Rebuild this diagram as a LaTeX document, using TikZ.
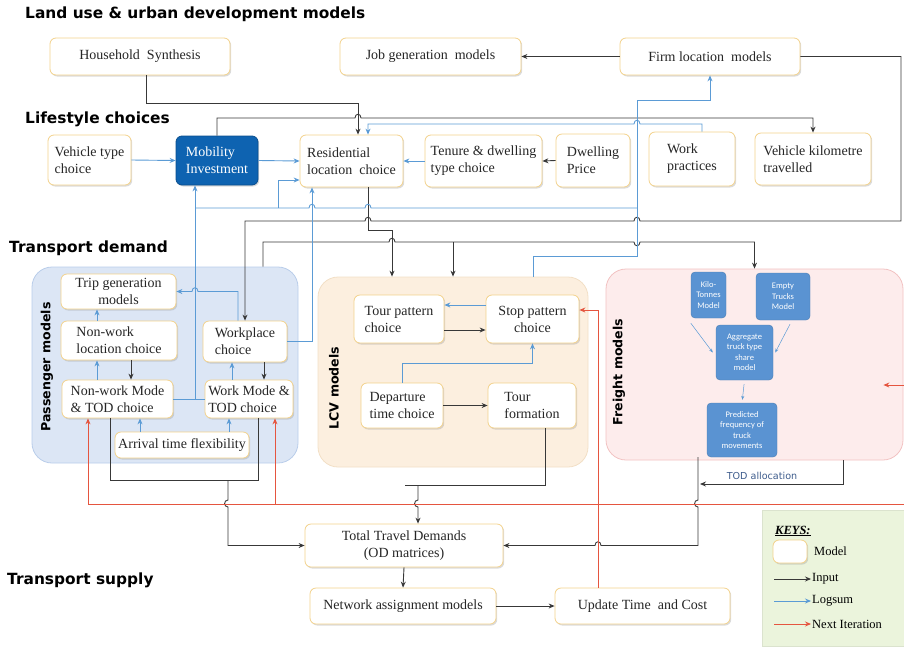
\documentclass[tikz,border=0pt]{standalone}
\usepackage{fontspec}
\setmainfont{Liberation Serif}
\newfontfamily\headfont{DejaVu Sans}
\newfontfamily\frfont{Carlito}
\usepackage{xcolor}
\usetikzlibrary{arrows.meta, positioning, shadows}

\definecolor{boxline}{HTML}{F3D28C}
\definecolor{logsum}{HTML}{5B9BD5}
\definecolor{nextit}{HTML}{E5553F}
\definecolor{inpline}{HTML}{383838}
\definecolor{mobblue}{HTML}{0E63B1}
\definecolor{frblue}{HTML}{5A93D2}
\definecolor{paxfill}{HTML}{DCE6F5}
\definecolor{paxline}{HTML}{B9CDEA}
\definecolor{lcvfill}{HTML}{FCEFDF}
\definecolor{lcvline}{HTML}{F2DFC6}
\definecolor{frtfill}{HTML}{FDECEC}
\definecolor{frtline}{HTML}{F2C2C2}
\definecolor{keyfill}{HTML}{EBF4DC}
\definecolor{todtext}{HTML}{3E5C8C}

\begin{document}
\begin{tikzpicture}[x=1pt, y=-1pt,
  model/.style={draw=boxline, line width=0.8pt, rounded corners=6pt, fill=white,
    drop shadow={shadow xshift=1.2pt, shadow yshift=-1.5pt, fill=black!40, opacity=0.35},
    font=\fontsize{14}{17}\selectfont, text=black!85, inner sep=2pt, align=left},
  group/.style={rounded corners=20pt, line width=0.8pt},
  grouplabel/.style={font=\headfont\bfseries\fontsize{12.6}{14}\selectfont, rotate=90},
  heading/.style={font=\headfont\bfseries\fontsize{15.4}{18}\selectfont, anchor=west, inner sep=0pt},
  frbox/.style={draw=frblue!85!black, fill=frblue, rounded corners=4pt, text=white,
    align=center, font=\frfont\fontsize{8.5}{10.5}\selectfont, inner sep=1pt},
  keytext/.style={anchor=west, inner sep=1pt, font=\fontsize{12.5}{14}\selectfont},
  inp/.style={draw=inpline, line width=0.9pt},
  lgs/.style={draw=logsum, line width=0.9pt},
  nxt/.style={draw=nextit, line width=0.9pt},
  >={Stealth[length=6pt, width=5pt]}
]
\useasboundingbox (0,0) rectangle (904,646);

% groups
\node[group, fill=paxfill, draw=paxline, minimum width=266pt, minimum height=196pt] (pax) at (165,365) {};
\node[group, fill=lcvfill, draw=lcvline, minimum width=270pt, minimum height=190pt] (lcv) at (453,372) {};
\node[group, fill=frtfill, draw=frtline, minimum width=297pt, minimum height=191pt] (frt) at (754.5,364.5) {};
\node[grouplabel] (paxlbl) at (47,367) {Passenger models};
\node[grouplabel] (lcvlbl) at (334,388) {LCV models};
\node[grouplabel] (frtlbl) at (619,372) {Freight models};

% headings
\node[heading] (hland) at (25,14) {Land use \& urban development models};
\node[heading] (hlife) at (25,119) {Lifestyle choices};
\node[heading] (hdem) at (9,248) {Transport demand};
\node[heading] (hsup) at (7,580) {Transport supply};

% land use
\node[model, minimum width=180pt, minimum height=37pt] (hh) at (140,56.5) {Household\ \ Synthesis};
\node[model, minimum width=181pt, minimum height=37pt] (job) at (430.5,56.5) {Job generation\ \ models};
\node[model, minimum width=180pt, minimum height=37pt] (firm) at (710,56.5) {Firm location\ \ models};

% lifestyle
\node[model, minimum width=83pt, minimum height=50pt] (veh) at (89.5,160) {Vehicle type\\choice};
\node[model, fill=mobblue, draw=mobblue!80!black, text=white, minimum width=82pt, minimum height=49pt] (mob) at (217,160.5) {Mobility\\Investment};
\node[model, minimum width=103pt, minimum height=52pt] (res) at (351.5,161) {Residential\\location\ \ choice};
\node[model, minimum width=117pt, minimum height=52pt] (ten) at (483.5,161) {Tenure \& dwelling\\type choice};
\node[model, minimum width=74pt, minimum height=53pt] (dwp) at (593,160.5) {Dwelling\\Price};
\node[model, minimum width=86pt, minimum height=54pt] (wrk) at (692,159) {Work\\practices};
\node[model, minimum width=116pt, minimum height=52pt] (vkt) at (813,159) {Vehicle kilometre\\travelled};

% passenger models
\node[model, align=center, minimum width=115pt, minimum height=35pt] (tg) at (118.5,291.5) {Trip generation\\models};
\node[model, minimum width=116pt, minimum height=39pt] (nwl) at (119,340.5) {Non-work\\location choice};
\node[model, minimum width=111pt, minimum height=38pt] (nwm) at (117.5,399) {Non-work Mode\\\& TOD choice};
\node[model, minimum width=84pt, minimum height=41pt] (wpc) at (245,341.5) {Workplace\\choice};
\node[model, minimum width=88pt, minimum height=38pt] (wkm) at (249,399) {Work Mode \&\\TOD choice};
\node[model, minimum width=134pt, minimum height=26pt] (arr) at (182,445) {Arrival time flexibility};

% LCV models
\node[model, minimum width=90pt, minimum height=48pt] (tpc) at (399,319) {Tour pattern\\choice};
\node[model, align=center, minimum width=93pt, minimum height=48pt] (spc) at (532.5,319) {Stop pattern\\choice};
\node[model, minimum width=82pt, minimum height=45pt] (dtc) at (402,405.5) {Departure\\time choice};
\node[model, minimum width=88pt, minimum height=45pt] (tfm) at (532,405.5) {Tour\\formation};

% freight models
\node[frbox, minimum width=35pt, minimum height=46pt] (kt) at (708.5,295) {Kilo-\\Tonnes\\Model};
\node[frbox, minimum width=54pt, minimum height=47pt] (et) at (783,296.5) {Empty\\Trucks\\Model};
\node[frbox, minimum width=57pt, minimum height=55pt] (ag) at (744.5,352.5) {Aggregate\\truck type\\share\\model};
\node[frbox, minimum width=70pt, minimum height=54pt] (pf) at (742,430) {Predicted\\frequency of\\truck\\movements};
\node[font=\headfont\fontsize{9.6}{11}\selectfont, text=todtext] (todlbl) at (762,476) {TOD allocation};

% supply
\node[model, align=center, minimum width=198pt, minimum height=43pt] (ttd) at (404,545.5) {Total Travel Demands\\(OD matrices)};
\node[model, minimum width=186pt, minimum height=36pt] (nam) at (403,606) {Network assignment models};
\node[model, minimum width=175pt, minimum height=36pt] (utc) at (642.5,606) {Update Time\ \ and Cost};

% keys
\node[fill=keyfill, draw=keyfill!85!gray, minimum width=142pt, minimum height=136pt] (keys) at (833,578) {};
\node[keytext, font=\bfseries\itshape\fontsize{12.5}{14}\selectfont] (keyttl) at (774,531) {\underline{KEYS:}};
\node[model, minimum width=34pt, minimum height=23pt] (kmod) at (790,551.5) {};
\node[keytext] (kmodl) at (813,551) {Model};
\node[keytext] (kinp) at (811,579) {Input};
\node[keytext] (klgs) at (811,601) {Logsum};
\node[keytext] (knxt) at (811,624) {Next Iteration};
\coordinate (k1) at (774,579);
\coordinate (k2) at (774,601);
\coordinate (k3) at (774,624);
\draw[inp, ->] (k1) -- (kinp.west);
\draw[lgs, ->] (k2) -- (klgs.west);
\draw[nxt, ->] (k3) -- (knxt.west);

% junctions
\coordinate (jl) at (453,242);
\coordinate (jp) at (228,480);
\coordinate (jc) at (418,485);
\coordinate (jm) at (195,399);
\coordinate (jr) at (195,208);
\coordinate (jq) at (278,208);
\coordinate (todtip) at (700,484);
\coordinate (ja) at (88,504);
\coordinate (jw) at (275,504);
\coordinate (jb) at (904,504);
\coordinate (jf) at (904,385);

% inputs
\draw[inp, ->] (firm.west) -- (job.east);
\draw[inp, ->] (dwp.west) -- (ten.east);
\draw[inp, ->] ([xshift=6pt]hh.south) |- (358,103) -- ([xshift=6.5pt]res.north);
\draw[inp, ->] (mob.north) |- (355,118) .. controls (355,113) and (361,113) .. (361,118) -| (vkt.north);
\draw[inp, ->] (firm.east) -- (901,56.5) -- (901,221) -- (640,221) .. controls (640,216) and (634,216) .. (634,221)
  -- (371,221) .. controls (371,216) and (365,216) .. (365,221) -| (wpc.north);
\draw[inp, ->] ([xshift=16.5pt]res.south) |- (392,230) -- ([xshift=-61pt]lcv.north);
\draw[inp, ->] ([xshift=98pt]pax.north) |- (389,242) .. controls (389,237) and (395,237) .. (395,242)
  -- (634,242) .. controls (634,247) and (640,247) .. (640,242) -| (frt.north);
\draw[inp, ->] (jl) -- (lcv.north);
\draw[inp, ->] ([xshift=12pt]nwl.south) -- ([xshift=13.5pt]nwm.north);
\draw[inp, ->] ([xshift=19pt]wpc.south) -- ([xshift=15pt]wkm.north);
\draw[inp, ->] ([yshift=-11pt]tpc.east) -- ([yshift=-11pt]spc.west);
\draw[inp, ->] (dtc.east) -- (tfm.west);
\draw[inp] ([xshift=-7.5pt]nwm.south) |- (jp) -| ([xshift=9pt]wkm.south);
\draw[inp, ->] (jp) -- (228,500) .. controls (223.5,500) and (223.5,507) .. (228,507) |- (ttd.west);
\draw[inp] ([xshift=13pt]tfm.south) |- (405,485);
\draw[inp, ->] (jc) -- (418,500) .. controls (413.5,500) and (413.5,507) .. (418,507) -- ([xshift=14pt]ttd.north);
\draw[inp, ->] ([xshift=-44pt]pf.south) -- (698,500) .. controls (693.5,500) and (693.5,507) .. (698,507)
  -- (698,545.5) -- (601,545.5) .. controls (601,540.5) and (595,540.5) .. (595,545.5) -- (ttd.east);
\draw[inp, ->] ([xshift=88.5pt]frt.south) |- (todtip);
\draw[inp, ->] (ttd.south) -- (nam.north);
\draw[inp, ->] (nam.east) -- (utc.west);

% logsums
\draw[lgs, ->] (veh.east) -- (mob.west);
\draw[lgs, ->] (mob.east) -- (res.west);
\draw[lgs, ->] (ten.west) -- (res.east);
\draw[lgs] (nwm.east) -- (wkm.west);
\draw[lgs, ->] (jm) -- ([xshift=-22pt]mob.south);
\draw[lgs] (jr) -- (309,208) .. controls (309,203) and (315,203) .. (315,208)
  -- (365,208) .. controls (365,203) and (371,203) .. (371,208) -- (637,208);
\draw[lgs, ->] ([xshift=80pt]lcv.north) |- (637,256) -- (637,100) -| (firm.south);
\draw[lgs, ->] (jq) |- ([yshift=-19pt]res.west);
\draw[lgs, ->] (wpc.east) -| ([xshift=-39.5pt]res.south);
\draw[lgs, ->] ([xshift=10pt]wrk.north) |- (640,124) .. controls (640,119) and (634,119) .. (634,124) -| ([xshift=16.5pt]res.north);
\draw[lgs, ->] ([xshift=-7pt]wpc.north) |- (198,291.5) .. controls (198,286.5) and (192,286.5) .. (192,291.5) -- (tg.east);
\draw[lgs, ->] ([xshift=-22pt]nwl.north) -- ([xshift=-21.5pt]tg.south);
\draw[lgs, ->] ([xshift=-20.5pt]nwm.north) -- ([xshift=-22pt]nwl.south);
\draw[lgs, ->] ([xshift=-17pt]wkm.north) -- ([xshift=-13pt]wpc.south);
\draw[lgs, ->] ([xshift=-42pt]arr.north) -- ([xshift=22.5pt]nwm.south);
\draw[lgs, ->] ([xshift=47pt]arr.north) -- ([xshift=-20pt]wkm.south);
\draw[lgs, ->] ([yshift=14pt]spc.west) -- ([yshift=14pt]tpc.east);
\draw[lgs, ->] (dtc.north) -- (402,363) -| (spc.south);
\draw[lgs, line width=0.5pt, ->, >={Stealth[length=4pt, width=3pt]}] ([yshift=-5pt]kt.south west) -- ([xshift=-3pt]ag.west);
\draw[lgs, line width=0.5pt, ->, >={Stealth[length=4pt, width=3pt]}] ([xshift=7pt, yshift=-4pt]et.south) -- ([xshift=2pt]ag.east);
\draw[lgs, line width=0.5pt, ->, >={Stealth[length=4pt, width=3pt]}, shorten <=4pt, shorten >=3pt] (ag.south) -- (pf.north);

% next iteration
\draw[nxt, ->] ([xshift=-44.5pt]utc.north) |- ([yshift=9pt]spc.east);
\draw[nxt] (ja) -- (jb);
\draw[nxt, ->] (ja) -- ([xshift=-29.5pt]nwm.south);
\draw[nxt, ->] (jw) -- ([xshift=26pt]wkm.south);
\draw[nxt, ->] (jf) -- ([xshift=-20pt, yshift=-20.5pt]frt.east);
\end{tikzpicture}
\end{document}
